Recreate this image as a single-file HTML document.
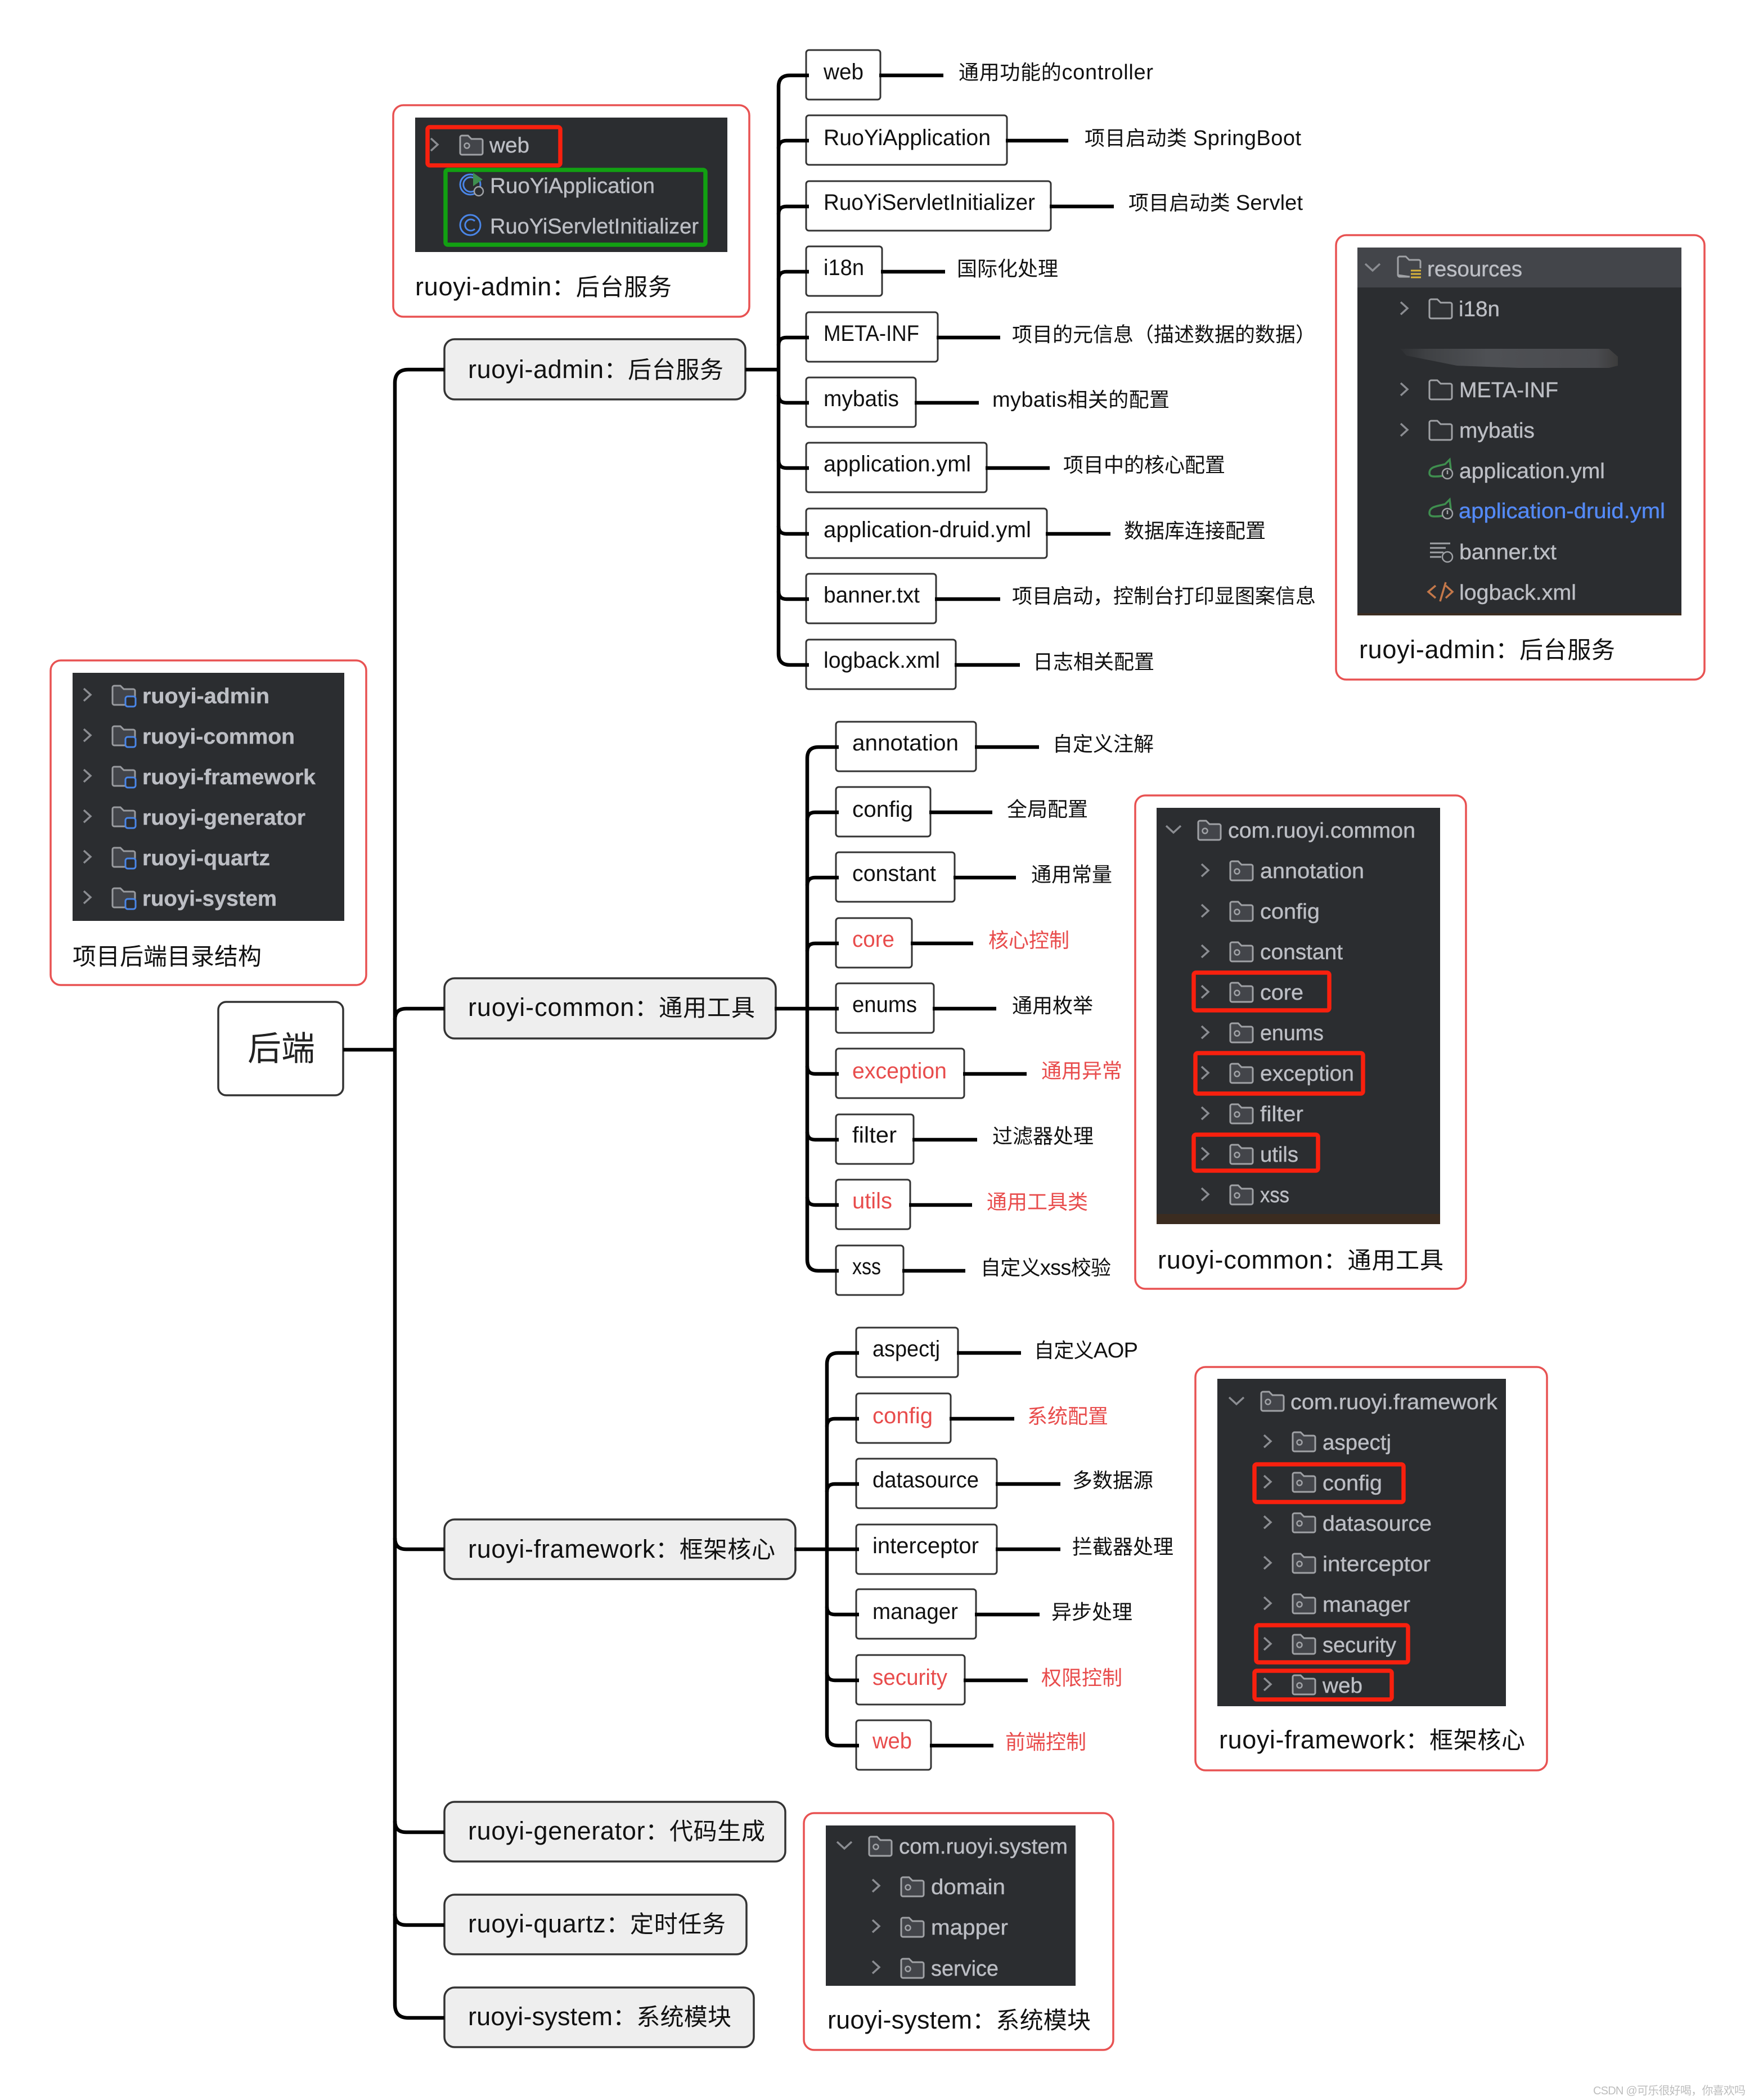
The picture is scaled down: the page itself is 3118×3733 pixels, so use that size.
<!DOCTYPE html>
<html lang="zh"><head><meta charset="utf-8"><title>后端目录结构</title>
<style>
html,body{margin:0;padding:0;background:#fff}
svg{display:block}
text{font-family:"Liberation Sans","Noto Sans CJK SC",sans-serif;white-space:pre}
.pn{fill:#fff;stroke:#e85252;stroke-width:3.5}
.dk{fill:#2b2d30}
.rb{fill:none;stroke:#f8200e;stroke-width:7.5}
.gb{fill:none;stroke:#12a012;stroke-width:7.5}
.lf{fill:#fff;stroke:#333;stroke-width:3}
.md{fill:#eee;stroke:#333;stroke-width:3.5}
.cn{fill:none;stroke:#000;stroke-width:6.5}
.ss text{font-size:38px;fill:#bcbec4;stroke:#bcbec4;stroke-width:.4}
.lt{font-size:40px;fill:#111}
.lb{font-size:36px;fill:#111}
.nd{font-size:42px;fill:#111}
.rd{fill:#e84c4c}
</style></head><body>
<svg width="3118" height="3733" viewBox="0 0 3118 3733" xmlns="http://www.w3.org/2000/svg">
<defs>
<path id="ch" d="M-6 -11 L6 0 L-6 11" fill="none" stroke="#8b8d92" stroke-width="3.5"/>
<path id="cd" d="M-13 -6 L0 6 L13 -6" fill="none" stroke="#8b8d92" stroke-width="3.5"/>
<g id="pf"><path d="M2 5 a3 3 0 0 1 3-3 h11 l6 6 h17 a3 3 0 0 1 3 3 v22 a3 3 0 0 1-3 3 H5 a3 3 0 0 1-3-3 Z" fill="#43454a" stroke="#a0a2a6" stroke-width="3"/><circle cx="14" cy="20" r="4.5" fill="none" stroke="#a0a2a6" stroke-width="2.5"/></g>
<path id="pl" d="M2 5 a3 3 0 0 1 3-3 h11 l6 6 h17 a3 3 0 0 1 3 3 v22 a3 3 0 0 1-3 3 H5 a3 3 0 0 1-3-3 Z" fill="#2f3134" stroke="#a0a2a6" stroke-width="3"/>
<g id="mf"><path d="M2 5 a3 3 0 0 1 3-3 h11 l6 6 h17 a3 3 0 0 1 3 3 v22 a3 3 0 0 1-3 3 H5 a3 3 0 0 1-3-3 Z" fill="#43454a" stroke="#9a9ca0" stroke-width="3"/><rect x="25" y="21" width="18" height="18" rx="4" fill="#2b2d30" stroke="#4a86e8" stroke-width="3"/></g>
<g id="sp"><path d="M2 24 C2 12 16 12 30 8 L38 0 L40 16 C40 26 28 30 12 30 C6 30 2 29 2 24 Z" fill="none" stroke="#3f8f4f" stroke-width="3.5"/><circle cx="34" cy="25" r="9" fill="#2b2d30" stroke="#a0a2a6" stroke-width="2.5"/><path d="M34 19 V26" stroke="#a0a2a6" stroke-width="2.5"/></g>
<linearGradient id="smg" x1="0" x2="1" y1="0" y2="0"><stop offset="0" stop-color="#2e3033"/><stop offset=".12" stop-color="#3f4144"/><stop offset=".4" stop-color="#4e5054"/><stop offset=".9" stop-color="#4a4b4f"/><stop offset="1" stop-color="#3c3c3c"/></linearGradient>
</defs>

<!-- panel A -->
<rect class="pn" x="90" y="1174" width="561" height="577" rx="18"/>
<rect class="dk" x="129" y="1196" width="483" height="441"/>
<g class="ss">
<use href="#ch" x="155" y="1235"/><use href="#mf" x="198" y="1217"/><text x="253" y="1250" font-weight="bold" textLength="226" lengthAdjust="spacingAndGlyphs">ruoyi-admin</text>
<use href="#ch" x="155" y="1307"/><use href="#mf" x="198" y="1289"/><text x="253" y="1322" font-weight="bold" textLength="271" lengthAdjust="spacingAndGlyphs">ruoyi-common</text>
<use href="#ch" x="155" y="1379"/><use href="#mf" x="198" y="1361"/><text x="253" y="1394" font-weight="bold" textLength="308" lengthAdjust="spacingAndGlyphs">ruoyi-framework</text>
<use href="#ch" x="155" y="1451"/><use href="#mf" x="198" y="1433"/><text x="253" y="1466" font-weight="bold" textLength="290" lengthAdjust="spacingAndGlyphs">ruoyi-generator</text>
<use href="#ch" x="155" y="1523"/><use href="#mf" x="198" y="1505"/><text x="253" y="1538" font-weight="bold" textLength="227" lengthAdjust="spacingAndGlyphs">ruoyi-quartz</text>
<use href="#ch" x="155" y="1595"/><use href="#mf" x="198" y="1577"/><text x="253" y="1610" font-weight="bold" textLength="239" lengthAdjust="spacingAndGlyphs">ruoyi-system</text>
</g>
<text class="nd" x="129" y="1715">项目后端目录结构</text>

<!-- panel F: top admin -->
<rect class="pn" x="699" y="187" width="633" height="376" rx="18"/>
<rect class="dk" x="738" y="209" width="555" height="239"/>
<g class="ss">
<use href="#ch" x="772" y="257"/><use href="#pf" x="816" y="239"/><text x="870" y="271" textLength="71" lengthAdjust="spacingAndGlyphs">web</text>
<circle cx="836" cy="328" r="18" fill="none" stroke="#4a86e8" stroke-width="3"/><path d="M845 318 a13 13 0 1 0 0 20" fill="none" stroke="#4a86e8" stroke-width="3"/><path d="M841 307 L858 319 L841 331 Z" fill="#3f8f4f"/><circle cx="851" cy="340" r="8" fill="#2b2d30" stroke="#a0a2a6" stroke-width="2.5"/>
<text x="871" y="343" textLength="293" lengthAdjust="spacingAndGlyphs">RuoYiApplication</text>
<circle cx="836" cy="400" r="18" fill="none" stroke="#4a86e8" stroke-width="3"/><path d="M844 393 a10 10 0 1 0 0 14" fill="none" stroke="#4a86e8" stroke-width="3"/>
<text x="871" y="415" textLength="371" lengthAdjust="spacingAndGlyphs">RuoYiServletInitializer</text>
</g>
<rect class="rb" x="760" y="226" width="236" height="68" rx="4"/>
<rect class="gb" x="792" y="302" width="462" height="133" rx="4"/>
<text class="nd" x="738" y="525" textLength="456"><tspan font-size="45">ruoyi-admin</tspan>：后台服务</text>

<!-- panel B: resources -->
<rect class="pn" x="2375" y="418" width="655" height="790" rx="18"/>
<rect class="dk" x="2413" y="440" width="576" height="654"/>
<rect x="2413" y="440" width="576" height="71" fill="#43454a"/>
<rect x="2413" y="1090" width="576" height="4" fill="#3b2c20"/>
<path d="M2489 620 H2860 L2876 634 V650 L2860 654 H2700 L2590 650 L2500 632 Z" fill="url(#smg)"/>
<g class="ss">
<use href="#cd" x="2440" y="475"/>
<path d="M2485 459 a3 3 0 0 1 3-3 h11 l6 6 h17 a3 3 0 0 1 3 3 v12 M2506 492 H2488 a3 3 0 0 1-3-3 Z M2485 459 V489" fill="none" stroke="#a0a2a6" stroke-width="3"/>
<path d="M2508 481 h18 M2508 487 h18 M2508 493 h18" stroke="#d8b33a" stroke-width="3"/>
<text x="2537" y="491" textLength="169" lengthAdjust="spacingAndGlyphs">resources</text>
<use href="#ch" x="2496" y="548"/><use href="#pl" x="2539" y="530"/><text x="2593" y="562" textLength="73" lengthAdjust="spacingAndGlyphs">i18n</text>
<use href="#ch" x="2496" y="692"/><use href="#pl" x="2539" y="674"/><text x="2594" y="706" textLength="176" lengthAdjust="spacingAndGlyphs">META-INF</text>
<use href="#ch" x="2496" y="764"/><use href="#pl" x="2539" y="746"/><text x="2594" y="778" textLength="134" lengthAdjust="spacingAndGlyphs">mybatis</text>
<use href="#sp" x="2539" y="817"/><text x="2594" y="850" textLength="259" lengthAdjust="spacingAndGlyphs">application.yml</text>
<use href="#sp" x="2539" y="888"/><text x="2593" y="921" textLength="367" lengthAdjust="spacingAndGlyphs" style="fill:#548af7;stroke:#548af7">application-druid.yml</text>
<path d="M2542 966 h36 M2542 974 h28 M2542 982 h24 M2542 990 h20" stroke="#a0a2a6" stroke-width="3"/><circle cx="2573" cy="990" r="9" fill="#2b2d30" stroke="#a0a2a6" stroke-width="2.5"/>
<text x="2594" y="994" textLength="173" lengthAdjust="spacingAndGlyphs">banner.txt</text>
<path d="M2552 1041 L2539 1052 L2552 1063 M2560 1069 L2570 1035 M2570 1041 L2582 1052 L2570 1063" fill="none" stroke="#c4784a" stroke-width="3.5"/>
<text x="2594" y="1066" textLength="208" lengthAdjust="spacingAndGlyphs">logback.xml</text>
</g>
<text class="nd" x="2416" y="1170" textLength="455"><tspan font-size="45">ruoyi-admin</tspan>：后台服务</text>

<!-- panel C: common -->
<rect class="pn" x="2018" y="1414" width="588" height="877" rx="18"/>
<rect class="dk" x="2056" y="1436" width="504" height="740"/>
<rect x="2056" y="2158" width="504" height="18" fill="#3b2c20"/>
<g class="ss">
<use href="#cd" x="2086" y="1474"/><use href="#pf" x="2128" y="1457"/><text x="2183" y="1489" textLength="333" lengthAdjust="spacingAndGlyphs">com.ruoyi.common</text>
<use href="#ch" x="2142" y="1547"/><use href="#pf" x="2185" y="1529"/><text x="2240" y="1561" textLength="185" lengthAdjust="spacingAndGlyphs">annotation</text>
<use href="#ch" x="2142" y="1619"/><use href="#pf" x="2185" y="1601"/><text x="2240" y="1633" textLength="106" lengthAdjust="spacingAndGlyphs">config</text>
<use href="#ch" x="2142" y="1691"/><use href="#pf" x="2185" y="1673"/><text x="2240" y="1705" textLength="147" lengthAdjust="spacingAndGlyphs">constant</text>
<use href="#ch" x="2142" y="1763"/><use href="#pf" x="2185" y="1745"/><text x="2240" y="1777" textLength="77" lengthAdjust="spacingAndGlyphs">core</text>
<use href="#ch" x="2142" y="1835"/><use href="#pf" x="2185" y="1817"/><text x="2240" y="1849" textLength="113" lengthAdjust="spacingAndGlyphs">enums</text>
<use href="#ch" x="2142" y="1907"/><use href="#pf" x="2185" y="1889"/><text x="2240" y="1921" textLength="167" lengthAdjust="spacingAndGlyphs">exception</text>
<use href="#ch" x="2142" y="1979"/><use href="#pf" x="2185" y="1961"/><text x="2240" y="1993" textLength="77" lengthAdjust="spacingAndGlyphs">filter</text>
<use href="#ch" x="2142" y="2051"/><use href="#pf" x="2185" y="2033"/><text x="2240" y="2065" textLength="68" lengthAdjust="spacingAndGlyphs">utils</text>
<use href="#ch" x="2142" y="2123"/><use href="#pf" x="2185" y="2105"/><text x="2240" y="2137" textLength="52" lengthAdjust="spacingAndGlyphs">xss</text>
</g>
<rect class="rb" x="2122" y="1729" width="241" height="67" rx="4"/>
<rect class="rb" x="2125" y="1872" width="298" height="72" rx="4"/>
<rect class="rb" x="2122" y="2017" width="221" height="64" rx="4"/>
<text class="nd" x="2058" y="2255" textLength="508"><tspan font-size="45">ruoyi-common</tspan>：通用工具</text>

<!-- panel D: framework -->
<rect class="pn" x="2125" y="2430" width="625" height="717" rx="18"/>
<rect class="dk" x="2164" y="2451" width="513" height="582"/>
<g class="ss">
<use href="#cd" x="2198" y="2490"/><use href="#pf" x="2240" y="2472"/><text x="2294" y="2505" textLength="368" lengthAdjust="spacingAndGlyphs">com.ruoyi.framework</text>
<use href="#ch" x="2253" y="2562"/><use href="#pf" x="2296" y="2544"/><text x="2351" y="2577" textLength="122" lengthAdjust="spacingAndGlyphs">aspectj</text>
<use href="#ch" x="2253" y="2634"/><use href="#pf" x="2296" y="2616"/><text x="2351" y="2649" textLength="106" lengthAdjust="spacingAndGlyphs">config</text>
<use href="#ch" x="2253" y="2706"/><use href="#pf" x="2296" y="2688"/><text x="2351" y="2721" textLength="194" lengthAdjust="spacingAndGlyphs">datasource</text>
<use href="#ch" x="2253" y="2778"/><use href="#pf" x="2296" y="2760"/><text x="2351" y="2793" textLength="192" lengthAdjust="spacingAndGlyphs">interceptor</text>
<use href="#ch" x="2253" y="2850"/><use href="#pf" x="2296" y="2832"/><text x="2351" y="2865" textLength="156" lengthAdjust="spacingAndGlyphs">manager</text>
<use href="#ch" x="2253" y="2922"/><use href="#pf" x="2296" y="2904"/><text x="2351" y="2937" textLength="131" lengthAdjust="spacingAndGlyphs">security</text>
<use href="#ch" x="2253" y="2994"/><use href="#pf" x="2296" y="2976"/><text x="2351" y="3009" textLength="71" lengthAdjust="spacingAndGlyphs">web</text>
</g>
<rect class="rb" x="2230" y="2603" width="265" height="67" rx="4"/>
<rect class="rb" x="2233" y="2889" width="270" height="66" rx="4"/>
<rect class="rb" x="2230" y="2970" width="244" height="51" rx="4"/>
<text class="nd" x="2167" y="3108" textLength="544"><tspan font-size="45">ruoyi-framework</tspan>：框架核心</text>

<!-- panel E: system -->
<rect class="pn" x="1429" y="3223" width="550" height="421" rx="18"/>
<rect class="dk" x="1468" y="3245" width="444" height="285"/>
<g class="ss">
<use href="#cd" x="1501" y="3280"/><use href="#pf" x="1543" y="3263"/><text x="1598" y="3295" textLength="300" lengthAdjust="spacingAndGlyphs">com.ruoyi.system</text>
<use href="#ch" x="1557" y="3352"/><use href="#pf" x="1600" y="3335"/><text x="1655" y="3367" textLength="132" lengthAdjust="spacingAndGlyphs">domain</text>
<use href="#ch" x="1557" y="3424"/><use href="#pf" x="1600" y="3407"/><text x="1655" y="3439" textLength="137" lengthAdjust="spacingAndGlyphs">mapper</text>
<use href="#ch" x="1557" y="3497"/><use href="#pf" x="1600" y="3480"/><text x="1655" y="3512" textLength="120" lengthAdjust="spacingAndGlyphs">service</text>
</g>
<text class="nd" x="1471" y="3606" textLength="468"><tspan font-size="45">ruoyi-system</tspan>：系统模块</text>

<!-- root -->
<rect x="388" y="1781" width="222" height="166" rx="14" fill="#fff" stroke="#333" stroke-width="3.5"/>
<text x="440" y="1885" font-size="60" fill="#222">后端</text>

<!-- mid nodes -->
<rect class="md" x="790" y="603" width="535" height="107" rx="18"/>
<text class="nd" x="832" y="672" textLength="454"><tspan font-size="45">ruoyi-admin</tspan>：后台服务</text>
<rect class="md" x="790" y="1739" width="589" height="107" rx="18"/>
<text class="nd" x="832" y="1806" textLength="510"><tspan font-size="45">ruoyi-common</tspan>：通用工具</text>
<rect class="md" x="790" y="2701" width="624" height="106" rx="18"/>
<text class="nd" x="832" y="2769" textLength="546"><tspan font-size="45">ruoyi-framework</tspan>：框架核心</text>
<rect class="md" x="790" y="3203" width="606" height="106" rx="18"/>
<text class="nd" x="832" y="3270" textLength="528"><tspan font-size="45">ruoyi-generator</tspan>：代码生成</text>
<rect class="md" x="790" y="3368" width="537" height="106" rx="18"/>
<text class="nd" x="832" y="3435" textLength="458"><tspan font-size="45">ruoyi-quartz</tspan>：定时任务</text>
<rect class="md" x="790" y="3533" width="550" height="106" rx="18"/>
<text class="nd" x="832" y="3600" textLength="468"><tspan font-size="45">ruoyi-system</tspan>：系统模块</text>

<!-- main connectors -->
<path class="cn" d="M610 1866 H702"/>
<path class="cn" d="M790 657 H726 Q702 657 702 681 V3563 Q702 3587 726 3587 H790"/>
<path class="cn" d="M790 1793 H722 Q702 1793 702 1813"/>
<path class="cn" d="M790 2754 H722 Q702 2754 702 2734"/>
<path class="cn" d="M790 3257 H722 Q702 3257 702 3237"/>
<path class="cn" d="M790 3422 H722 Q702 3422 702 3402"/>

<!-- admin leaves -->
<g>
<rect class="lf" x="1433" y="89" width="132" height="88" rx="5"/>
<rect class="lf" x="1433" y="205" width="357" height="88" rx="5"/>
<rect class="lf" x="1433" y="322" width="435" height="88" rx="5"/>
<rect class="lf" x="1433" y="438" width="135" height="88" rx="5"/>
<rect class="lf" x="1433" y="555" width="234" height="88" rx="5"/>
<rect class="lf" x="1433" y="671" width="195" height="88" rx="5"/>
<rect class="lf" x="1433" y="787" width="321" height="88" rx="5"/>
<rect class="lf" x="1433" y="904" width="428" height="88" rx="5"/>
<rect class="lf" x="1433" y="1020" width="231" height="88" rx="5"/>
<rect class="lf" x="1433" y="1137" width="266" height="88" rx="5"/>
</g>
<g class="lt">
<text x="1464" y="141" textLength="71" lengthAdjust="spacingAndGlyphs">web</text>
<text x="1464" y="258" textLength="297" lengthAdjust="spacingAndGlyphs">RuoYiApplication</text>
<text x="1464" y="373" textLength="376" lengthAdjust="spacingAndGlyphs">RuoYiServletInitializer</text>
<text x="1464" y="489" textLength="72" lengthAdjust="spacingAndGlyphs">i18n</text>
<text x="1464" y="606" textLength="170" lengthAdjust="spacingAndGlyphs">META-INF</text>
<text x="1464" y="722" textLength="134" lengthAdjust="spacingAndGlyphs">mybatis</text>
<text x="1464" y="838" textLength="262" lengthAdjust="spacingAndGlyphs">application.yml</text>
<text x="1464" y="955" textLength="369" lengthAdjust="spacingAndGlyphs">application-druid.yml</text>
<text x="1464" y="1071" textLength="171" lengthAdjust="spacingAndGlyphs">banner.txt</text>
<text x="1464" y="1187" textLength="207" lengthAdjust="spacingAndGlyphs">logback.xml</text>
</g>
<path class="cn" d="M1325 657 H1384"/>
<path class="cn" d="M1438 134 H1404 Q1384 134 1384 154 V1162 Q1384 1182 1404 1182 H1438"/>
<path class="cn" d="M1438 250 H1398 Q1384 250 1384 264"/>
<path class="cn" d="M1438 367 H1398 Q1384 367 1384 381"/>
<path class="cn" d="M1438 483 H1398 Q1384 483 1384 497"/>
<path class="cn" d="M1438 600 H1398 Q1384 600 1384 614"/>
<path class="cn" d="M1438 716 H1398 Q1384 716 1384 702"/>
<path class="cn" d="M1438 832 H1398 Q1384 832 1384 818"/>
<path class="cn" d="M1438 949 H1398 Q1384 949 1384 935"/>
<path class="cn" d="M1438 1065 H1398 Q1384 1065 1384 1051"/>
<path class="cn" d="M1563 134 H1677"/>
<path class="cn" d="M1788 250 H1899"/>
<path class="cn" d="M1866 367 H1980"/>
<path class="cn" d="M1566 483 H1680"/>
<path class="cn" d="M1665 600 H1778"/>
<path class="cn" d="M1626 716 H1740"/>
<path class="cn" d="M1752 832 H1866"/>
<path class="cn" d="M1859 949 H1974"/>
<path class="cn" d="M1662 1065 H1778"/>
<path class="cn" d="M1697 1182 H1813"/>
<g class="lb">
<text x="1704" y="141" textLength="346">通用功能的<tspan font-size="38">controller</tspan></text>
<text x="1928" y="258" textLength="385">项目启动类 <tspan font-size="38">SpringBoot</tspan></text>
<text x="2006" y="373" textLength="310">项目启动类 <tspan font-size="38">Servlet</tspan></text>
<text x="1701" y="490">国际化处理</text>
<text x="1799" y="607">项目的元信息（描述数据的数据）</text>
<text x="1764" y="723" textLength="315"><tspan font-size="38">mybatis</tspan>相关的配置</text>
<text x="1890" y="839">项目中的核心配置</text>
<text x="1998" y="956">数据库连接配置</text>
<text x="1799" y="1072">项目启动，控制台打印显图案信息</text>
<text x="1836" y="1189">日志相关配置</text>
</g>

<!-- common leaves -->
<g>
<rect class="lf" x="1486" y="1283" width="249" height="88" rx="5"/>
<rect class="lf" x="1486" y="1399" width="168" height="88" rx="5"/>
<rect class="lf" x="1486" y="1515" width="211" height="88" rx="5"/>
<rect class="lf" x="1486" y="1632" width="135" height="88" rx="5"/>
<rect class="lf" x="1486" y="1748" width="174" height="88" rx="5"/>
<rect class="lf" x="1486" y="1864" width="228" height="88" rx="5"/>
<rect class="lf" x="1486" y="1981" width="138" height="88" rx="5"/>
<rect class="lf" x="1486" y="2097" width="132" height="88" rx="5"/>
<rect class="lf" x="1486" y="2214" width="120" height="88" rx="5"/>
</g>
<g class="lt">
<text x="1515" y="1334" textLength="189" lengthAdjust="spacingAndGlyphs">annotation</text>
<text x="1515" y="1452" textLength="108" lengthAdjust="spacingAndGlyphs">config</text>
<text x="1515" y="1566" textLength="149" lengthAdjust="spacingAndGlyphs">constant</text>
<text x="1515" y="1683" textLength="75" lengthAdjust="spacingAndGlyphs" class="rd">core</text>
<text x="1515" y="1799" textLength="115" lengthAdjust="spacingAndGlyphs">enums</text>
<text x="1515" y="1917" textLength="168" lengthAdjust="spacingAndGlyphs" class="rd">exception</text>
<text x="1515" y="2031" textLength="79" lengthAdjust="spacingAndGlyphs">filter</text>
<text x="1515" y="2148" textLength="71" lengthAdjust="spacingAndGlyphs" class="rd">utils</text>
<text x="1515" y="2265" textLength="51" lengthAdjust="spacingAndGlyphs">xss</text>
</g>
<path class="cn" d="M1377 1793 H1491"/>
<path class="cn" d="M1491 1328 H1455 Q1435 1328 1435 1348 V2239 Q1435 2259 1455 2259 H1491"/>
<path class="cn" d="M1491 1444 H1449 Q1435 1444 1435 1458"/>
<path class="cn" d="M1491 1560 H1449 Q1435 1560 1435 1574"/>
<path class="cn" d="M1491 1677 H1449 Q1435 1677 1435 1691"/>
<path class="cn" d="M1491 1909 H1449 Q1435 1909 1435 1895"/>
<path class="cn" d="M1491 2026 H1449 Q1435 2026 1435 2012"/>
<path class="cn" d="M1491 2142 H1449 Q1435 2142 1435 2128"/>
<path class="cn" d="M1733 1328 H1847"/>
<path class="cn" d="M1652 1444 H1764"/>
<path class="cn" d="M1695 1560 H1806"/>
<path class="cn" d="M1619 1677 H1730"/>
<path class="cn" d="M1658 1793 H1771"/>
<path class="cn" d="M1712 1909 H1825"/>
<path class="cn" d="M1622 2026 H1737"/>
<path class="cn" d="M1616 2142 H1728"/>
<path class="cn" d="M1604 2259 H1716"/>
<g class="lb">
<text x="1871" y="1335">自定义注解</text>
<text x="1790" y="1451">全局配置</text>
<text x="1833" y="1567">通用常量</text>
<text x="1757" y="1684" class="rd">核心控制</text>
<text x="1799" y="1800">通用枚举</text>
<text x="1851" y="1916" class="rd">通用异常</text>
<text x="1764" y="2032">过滤器处理</text>
<text x="1754" y="2149" class="rd">通用工具类</text>
<text x="1743" y="2266" textLength="232">自定义<tspan font-size="38">xss</tspan>校验</text>
</g>

<!-- framework leaves -->
<g>
<rect class="lf" x="1522" y="2360" width="181" height="88" rx="5"/>
<rect class="lf" x="1522" y="2477" width="168" height="88" rx="5"/>
<rect class="lf" x="1522" y="2593" width="250" height="88" rx="5"/>
<rect class="lf" x="1522" y="2710" width="250" height="88" rx="5"/>
<rect class="lf" x="1522" y="2825" width="213" height="88" rx="5"/>
<rect class="lf" x="1522" y="2942" width="193" height="88" rx="5"/>
<rect class="lf" x="1522" y="3058" width="133" height="88" rx="5"/>
</g>
<g class="lt">
<text x="1551" y="2411" textLength="120" lengthAdjust="spacingAndGlyphs">aspectj</text>
<text x="1551" y="2530" textLength="107" lengthAdjust="spacingAndGlyphs" class="rd">config</text>
<text x="1551" y="2644" textLength="189" lengthAdjust="spacingAndGlyphs">datasource</text>
<text x="1551" y="2761" textLength="189" lengthAdjust="spacingAndGlyphs">interceptor</text>
<text x="1551" y="2878" textLength="152" lengthAdjust="spacingAndGlyphs">manager</text>
<text x="1551" y="2995" textLength="133" lengthAdjust="spacingAndGlyphs" class="rd">security</text>
<text x="1551" y="3108" textLength="70" lengthAdjust="spacingAndGlyphs" class="rd">web</text>
</g>
<path class="cn" d="M1412 2754 H1527"/>
<path class="cn" d="M1527 2405 H1490 Q1470 2405 1470 2425 V3083 Q1470 3103 1490 3103 H1527"/>
<path class="cn" d="M1527 2522 H1484 Q1470 2522 1470 2536"/>
<path class="cn" d="M1527 2638 H1484 Q1470 2638 1470 2652"/>
<path class="cn" d="M1527 2870 H1484 Q1470 2870 1470 2856"/>
<path class="cn" d="M1527 2987 H1484 Q1470 2987 1470 2973"/>
<path class="cn" d="M1701 2405 H1815"/>
<path class="cn" d="M1688 2522 H1803"/>
<path class="cn" d="M1770 2638 H1885"/>
<path class="cn" d="M1770 2754 H1885"/>
<path class="cn" d="M1733 2870 H1848"/>
<path class="cn" d="M1713 2987 H1827"/>
<path class="cn" d="M1653 3103 H1766"/>
<g class="lb">
<text x="1838" y="2413" textLength="185">自定义<tspan font-size="38">AOP</tspan></text>
<text x="1826" y="2530" class="rd">系统配置</text>
<text x="1906" y="2644">多数据源</text>
<text x="1906" y="2762">拦截器处理</text>
<text x="1869" y="2878">异步处理</text>
<text x="1851" y="2995" class="rd">权限控制</text>
<text x="1787" y="3109" class="rd">前端控制</text>
</g>

<text x="2832" y="3723" font-size="20" fill="#bdbdbd" textLength="271">CSDN @可乐很好喝，你喜欢吗</text>
</svg>
</body></html>
